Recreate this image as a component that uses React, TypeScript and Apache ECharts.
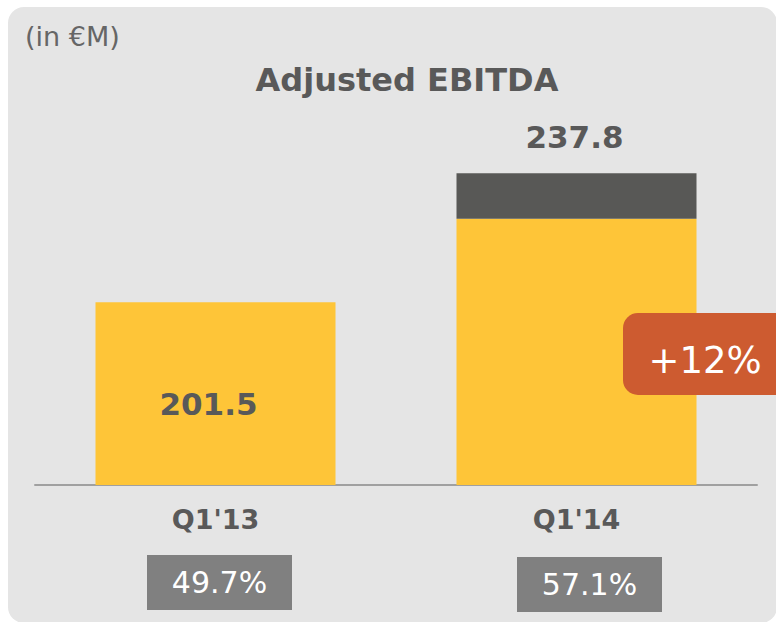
import React, { useEffect, useRef } from "react";
import * as echarts from "echarts";

const categories = ["Q1'13", "Q1'14"];
const totals = [201.5, 237.8];
const baseValues = [201.5, 225.0];
const extraValues: (number | string)[] = ["-", 12.8];
const margins = ["49.7%", "57.1%"];
const growthLabel = "+12%";
const unitLabel = "(in €M)";
const titleText = "Adjusted EBITDA";

const FONT = "DejaVu Sans, Verdana, sans-serif";
const TEXT_DARK = "#595959";
const YELLOW = "#fec538";
const DARK = "#585856";

export default function App() {
  const ref = useRef<HTMLDivElement>(null);
  useEffect(() => {
    document.body.style.margin = "0";
    if (!ref.current) return;
    const chart = echarts.init(ref.current, undefined, { renderer: "svg" });
    const option: any = {
      animation: false,
      grid: { left: 35, right: 19, top: 130, bottom: 137 },
      xAxis: {
        type: "category",
        data: categories,
        axisLine: { lineStyle: { color: "#a0a0a0", width: 2 } },
        axisTick: { show: false },
        axisLabel: {
          color: TEXT_DARK,
          fontFamily: FONT,
          fontWeight: "bold",
          fontSize: 27,
          margin: 21,
        },
      },
      yAxis: {
        type: "value",
        min: 150,
        max: 250,
        startValue: 150,
        show: false,
        splitLine: { show: false },
      },
      series: [
        {
          type: "bar",
          stack: "ebitda",
          data: baseValues,
          barWidth: 240,
          clip: true,
          itemStyle: { color: YELLOW },
          z: 2,
          label: {
            show: true,
            position: "inside",
            offset: [-7, 10],
            color: TEXT_DARK,
            fontFamily: FONT,
            fontWeight: "bold",
            fontSize: 31,
            formatter: (p: any) => (p.dataIndex === 0 ? String(totals[0]) : ""),
          },
        },
        {
          type: "bar",
          stack: "ebitda",
          data: extraValues,
          barWidth: 240,
          clip: true,
          itemStyle: { color: DARK },
          z: 2,
          label: {
            show: true,
            position: "top",
            distance: 21,
            offset: [-2, 0],
            color: TEXT_DARK,
            fontFamily: FONT,
            fontWeight: "bold",
            fontSize: 31,
            formatter: (p: any) => String(totals[p.dataIndex]),
          },
        },
      ],
    };
    chart.setOption(option);

    const boxShift = [4, 13];
    const boxTop = [555, 557];
    const boxW = 145;
    const boxH = 55;
    const boxes: any[] = [];
    categories.forEach((c, i) => {
      const cx = chart.convertToPixel({ xAxisIndex: 0 }, c) as number;
      const x = cx + boxShift[i] - boxW / 2;
      boxes.push({
        type: "rect",
        shape: { x, y: boxTop[i], width: boxW, height: boxH },
        style: { fill: "#808080" },
        z: 10,
      });
      boxes.push({
        type: "text",
        x: x + boxW / 2,
        y: boxTop[i] + boxH / 2,
        style: {
          text: margins[i],
          fill: "#ffffff",
          font: `30px ${FONT}`,
          align: "center",
          verticalAlign: "middle",
        },
        z: 11,
      });
    });

    chart.setOption({
      graphic: [
        {
          type: "rect",
          shape: { x: 8, y: 7, width: 769, height: 616, r: 16 },
          style: { fill: "#e5e5e5" },
          z: -10,
          silent: true,
        },
        {
          type: "text",
          x: 25,
          y: 36,
          style: {
            text: unitLabel,
            fill: "#666666",
            font: `27px ${FONT}`,
            align: "left",
            verticalAlign: "middle",
          },
        },
        {
          type: "text",
          x: 407,
          y: 80,
          style: {
            text: titleText,
            fill: TEXT_DARK,
            font: `bold 32px ${FONT}`,
            align: "center",
            verticalAlign: "middle",
          },
        },
        {
          type: "rect",
          shape: { x: 623, y: 313, width: 180, height: 82, r: 15 },
          style: { fill: "#cd5b30" },
          z: 100,
        },
        {
          type: "text",
          x: 705,
          y: 360,
          style: {
            text: growthLabel,
            fill: "#ffffff",
            font: `37px ${FONT}`,
            align: "center",
            verticalAlign: "middle",
          },
          z: 101,
        },
        ...boxes,
      ],
    });

    return () => chart.dispose();
  }, []);
  return <div ref={ref} style={{ width: 776, height: 622 }} />;
}
